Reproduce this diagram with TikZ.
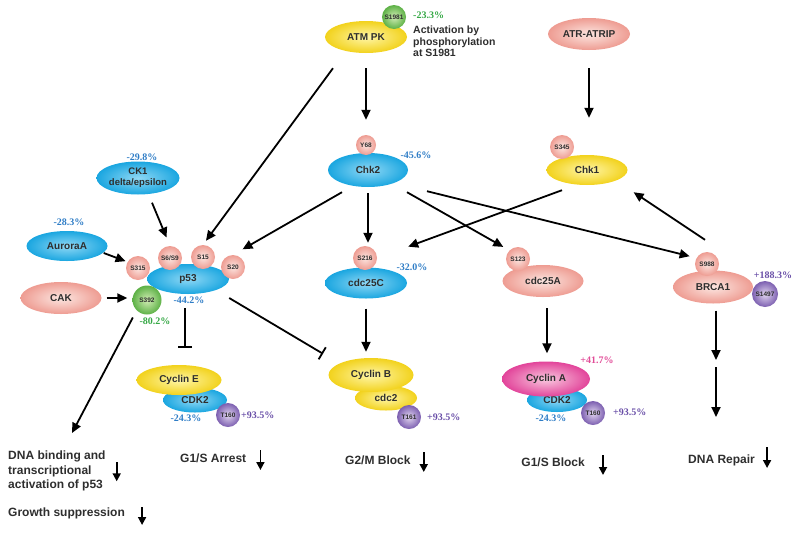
\documentclass[tikz,border=0pt]{standalone}
\usepackage{fontspec}
\setmainfont{Liberation Sans}
\newfontfamily\pctfont{Liberation Serif}
\usepackage{tikz}
\usetikzlibrary{positioning,
				shapes.geometric,
				arrows.meta,
				calc}

\definecolor{bluein}{HTML}{8FD8F5}
\definecolor{blueout}{HTML}{1AA6E0}
\definecolor{pinkin}{HTML}{FCE6E1}
\definecolor{pinkout}{HTML}{EE9C92}
\definecolor{yelin}{HTML}{FFF6A8}
\definecolor{yelout}{HTML}{F2D21C}
\definecolor{magin}{HTML}{F9C9DF}
\definecolor{magout}{HTML}{E2449A}
\definecolor{grnin}{HTML}{D2EDB5}
\definecolor{grnout}{HTML}{5DB146}
\definecolor{purin}{HTML}{E2D6F0}
\definecolor{purout}{HTML}{7C5FB0}
\definecolor{pctblue}{HTML}{2F7DC6}
\definecolor{pctgreen}{HTML}{35A845}
\definecolor{pctpurple}{HTML}{6A50A8}
\definecolor{pctpink}{HTML}{E14C98}
\definecolor{txtgray}{HTML}{2E2E2E}

\begin{document}
\begin{tikzpicture}[x=1pt,y=-1pt,
  prot/.style={ellipse,inner sep=0pt,minimum width=82pt,minimum height=32pt,
    font=\fontsize{10}{11}\selectfont\bfseries,text=txtgray,align=center},
  blueprot/.style={prot,inner color=bluein,outer color=blueout},
  pinkprot/.style={prot,inner color=pinkin,outer color=pinkout},
  yelprot/.style={prot,inner color=yelin,outer color=yelout},
  magprot/.style={prot,inner color=magin,outer color=magout},
  site/.style={circle,inner sep=0pt,minimum size=24pt,
    font=\fontsize{6.5}{7}\selectfont\bfseries,text=txtgray,
    inner color=pinkin,outer color=pinkout},
  greensite/.style={site,inner color=grnin,outer color=grnout},
  pursite/.style={site,inner color=purin,outer color=purout},
  pct/.style={font=\pctfont\fontsize{10}{11}\selectfont\bfseries,inner sep=0pt},
  act/.style={-{Triangle[length=10pt,width=9pt]},line width=1.8pt},
  inh/.style={-{Bar[width=14pt,line width=1.8pt]},line width=1.8pt},
  outcome/.style={font=\fontsize{12}{14.5}\selectfont\bfseries,text=txtgray,
    inner sep=0pt,align=left},
  down/.style={-{Triangle[length=8pt,width=8pt]},line width=1.8pt}]
  \useasboundingbox (0,0) rectangle (800,533);

  \node[yelprot] (atm) at (366,37) {ATM PK};
  \node[greensite] (s1981) at (394,17) {S1981};
  \node[pct,text=pctgreen,anchor=west] (atmpct) at (413,15) {-23.3\%};
  \node[anchor=north west,inner sep=0pt,align=left,text=txtgray,
    font=\fontsize{10.5}{11.5}\selectfont\bfseries] (atmnote) at (413,26)
    {Activation by\\phosphorylation\\at S1981};
  \node[pinkprot] (atr) at (589,34) {ATR-ATRIP};

  \node[blueprot,minimum width=83pt,minimum height=33pt,
    font=\fontsize{9.5}{11}\selectfont\bfseries] (ck1) at (138,178) {CK1\\delta/epsilon};
  \node[pct,text=pctblue] (ck1pct) at (142,157) {-29.8\%};
  \node[blueprot,minimum width=80pt,minimum height=34pt] (chk2) at (368,170) {Chk2};
  \node[site,minimum size=20pt] (y68) at (366,145) {Y68};
  \node[pct,text=pctblue] (chk2pct) at (416,155) {-45.6\%};
  \node[yelprot,minimum width=81pt,minimum height=30pt] (chk1) at (587,170) {Chk1};
  \node[site] (s345) at (562,147) {S345};

  \node[blueprot,minimum width=81pt,minimum height=30pt] (aurora) at (67,246) {AuroraA};
  \node[pct,text=pctblue] (aurorapct) at (69,222) {-28.3\%};
  \node[pinkprot,minimum width=81pt] (cak) at (61,298) {CAK};
  \node[blueprot,minimum height=30pt] (p53) at (188,279) {p53};
  \node[site] (s315) at (138,268) {S315};
  \node[site] (s69) at (170,258) {S6/S9};
  \node[site] (s15) at (203,257) {S15};
  \node[site] (s20) at (233,267) {S20};
  \node[greensite,minimum size=29pt] (s392) at (147,300) {S392};
  \node[pct,text=pctblue] (p53pct) at (189,300) {-44.2\%};
  \node[pct,text=pctgreen] (s392pct) at (155,321) {-80.2\%};

  \node[blueprot,minimum height=31pt] (cdc25c) at (366,283) {cdc25C};
  \node[site] (s216) at (365,258) {S216};
  \node[pct,text=pctblue] (cdc25cpct) at (412,267) {-32.0\%};
  \node[pinkprot,minimum width=81pt] (cdc25a) at (543,281) {cdc25A};
  \node[site] (s123) at (518,259) {S123};
  \node[pinkprot,minimum width=80pt,minimum height=33pt] (brca1) at (713,287) {BRCA1};
  \node[site] (s988) at (707,264) {S988};
  \node[pursite,minimum size=26pt] (s1497) at (765,294) {S1497};
  \node[pct,text=pctpurple] (brca1pct) at (773,275) {+188.3\%};

  \node[blueprot,minimum width=64pt,minimum height=25pt] (cdk2e) at (195,400) {\raisebox{-3pt}{CDK2}};
  \node[yelprot,minimum width=85pt,minimum height=30pt] (cycline) at (179,380) {Cyclin E};
  \node[pursite] (t160e) at (228,415) {T160};
  \node[pct,text=pctpurple,anchor=west] (t160epct) at (241,415) {+93.5\%};
  \node[pct,text=pctblue] (cdk2epct) at (186,418) {-24.3\%};

  \node[yelprot,minimum width=62pt,minimum height=25pt] (cdc2) at (386,398) {\raisebox{-3pt}{cdc2}};
  \node[yelprot,minimum width=85pt,minimum height=34pt] (cyclinb) at (371,375) {Cyclin B};
  \node[pursite] (t161) at (409,417) {T161};
  \node[pct,text=pctpurple,anchor=west] (t161pct) at (427,417) {+93.5\%};

  \node[blueprot,minimum width=60pt,minimum height=24pt] (cdk2a) at (557,400) {\raisebox{-3pt}{CDK2}};
  \node[magprot,minimum width=88pt,minimum height=35pt] (cyclina) at (546,379) {Cyclin A};
  \node[pursite] (t160a) at (593,413) {T160};
  \node[pct,text=pctpurple,anchor=west] (t160apct) at (613,412) {+93.5\%};
  \node[pct,text=pctblue] (cdk2apct) at (551,418) {-24.3\%};
  \node[pct,text=pctpink] (cyclinapct) at (597,360) {+41.7\%};

  \node[outcome,anchor=north west] (dnabind) at (8,451)
    {DNA binding and\\transcriptional\\activation of p53};
  \node[outcome,anchor=west] (growth) at (8,513) {Growth suppression};
  \node[outcome,anchor=west] (g1sarrest) at (180,458) {G1/S Arrest};
  \node[outcome,anchor=west] (g2m) at (345,460) {G2/M Block};
  \node[outcome,anchor=east] (g1sblock) at (585,462) {G1/S Block};
  \node[outcome,anchor=west] (dnarepair) at (688,460) {DNA Repair};

  \coordinate (dnaend) at (72,433);
  \coordinate (brcamid) at (716,363);
  \coordinate (brcaend) at (716,417);

  \draw[act,shorten <=15pt,shorten >=15pt] (atm.south) -- (atm.south |- y68.north);
  \draw[act,shorten >=5pt] ([xshift=-33pt,yshift=-15pt]atm.south) -- (s15.north);
  \draw[act,shorten <=18pt,shorten >=37pt] (atr.south) -- (atr.south |- chk1.north);
  \draw[act,shorten >=9pt] ([xshift=14pt,yshift=-8pt]ck1.south) -- (s69.north);
  \draw[act,shorten >=2pt] ([xshift=-4pt,yshift=-7pt]aurora.east) -- (s315.150);
  \draw[act,shorten <=5pt,shorten >=5pt] (cak.east) -- (cak.east -| s392.west);
  \draw[act,shorten >=11pt] ([xshift=-26pt,yshift=-5pt]chk2.south) -- (s20.north);
  \draw[act,shorten <=6pt,shorten >=3pt] (chk2.south) -- (chk2.south |- s216.north);
  \draw[act,shorten >=7pt] ([xshift=39pt,yshift=-5pt]chk2.south) -- (s123.north west);
  \draw[act,shorten >=7pt] ([xshift=59pt,yshift=-4pt]chk2.south) -- (s988.150);
  \draw[act,shorten >=33pt] ([xshift=-25pt,yshift=-5pt]chk1.south) -- (s216.east);
  \draw[act,shorten >=21pt] ([xshift=-2pt,yshift=12pt]s988.north) -- (chk1.-20);
  \draw[inh,shorten <=14pt,shorten >=17pt] ([xshift=-3pt]p53.south) -- ([xshift=-3pt]p53.south |- cycline.north);
  \draw[inh,shorten >=19pt] ([yshift=-19pt]p53.east) -- (cyclinb.160);
  \draw[act,shorten <=8pt] (s392.south west) -- (dnaend);
  \draw[act,shorten <=10pt,shorten >=6pt] (cdc25c.south) -- (cdc25c.south |- cyclinb.north);
  \draw[act,shorten <=11pt,shorten >=8pt] ([xshift=4pt]cdc25a.south) -- ([xshift=4pt]cdc25a.south |- cyclina.north);
  \draw[act,shorten <=7pt,shorten >=3pt] ([xshift=3pt]brca1.south) -- (brcamid);
  \draw[act,shorten <=4pt] (brcamid) -- (brcaend);

  \draw[down] ([xshift=11pt,yshift=9pt]dnabind.east) -- ++(0,19);
  \draw[down] ([xshift=17pt,yshift=6pt]growth.east) -- ++(0,18);
  \draw[down] ([xshift=14pt,yshift=8pt]g1sarrest.east) -- ++(0,20);
  \draw[down] ([xshift=13pt,yshift=8pt]g2m.east) -- ++(0,20);
  \draw[down] ([xshift=18pt,yshift=7pt]g1sblock.east) -- ++(0,20);
  \draw[down] ([xshift=12pt,yshift=13pt]dnarepair.east) -- ++(0,21);
\end{tikzpicture}
\end{document}
